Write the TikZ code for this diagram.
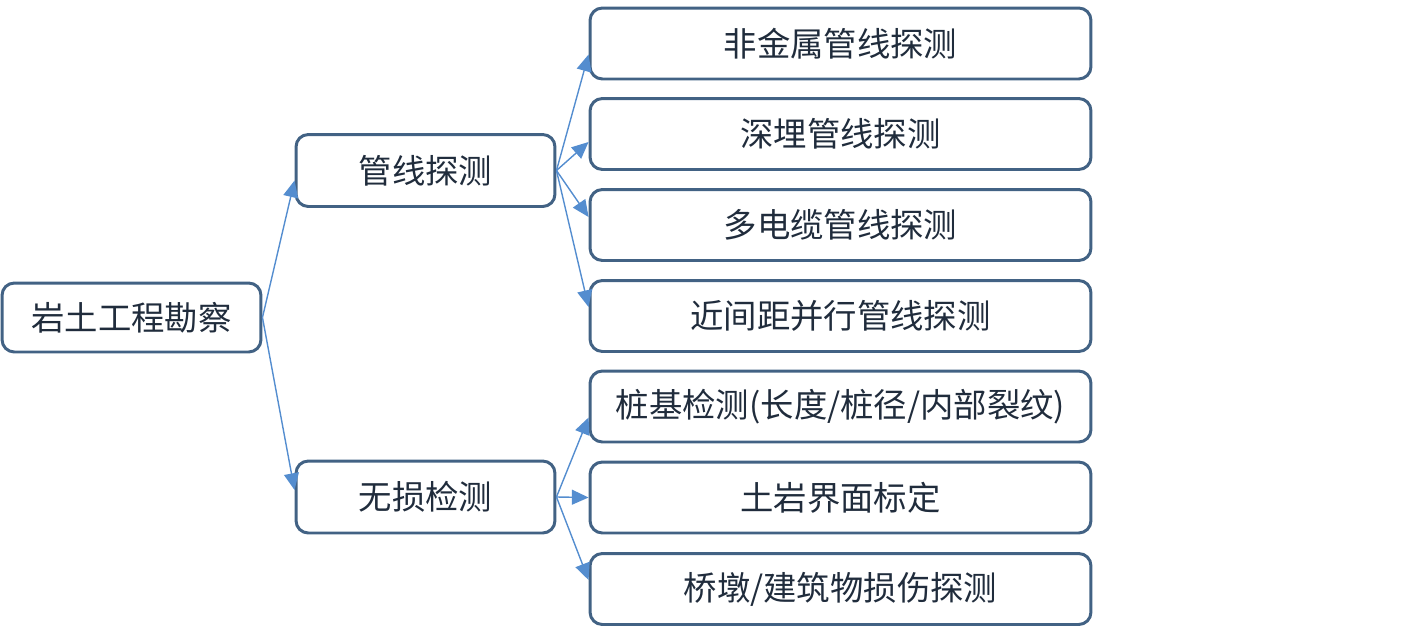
\documentclass[tikz,border=0pt]{standalone}
\usepackage{fontspec}
\setmainfont{Noto Sans CJK SC}
\usepackage{tikz}
\usetikzlibrary{arrows.meta, positioning}
\definecolor{boxline}  {RGB}{66, 98, 132}
\definecolor{arrowblue}{RGB}{84,141,207}
\definecolor{textdark} {RGB}{32, 44, 60}

\begin{document}
\begin{tikzpicture}[x=0.02cm,y=-0.02cm,
		box/.style={draw=boxline,line width=1.7pt,rounded corners=7pt,
			text=textdark,font=\fontsize{19}{22}\selectfont,inner sep=0pt},
		midbox/.style={box,minimum width=5.18cm,minimum height=1.44cm},
		leafbox/.style={box,minimum width=10.02cm,minimum height=1.42cm},
		link/.style={draw=arrowblue,line width=0.8pt,
			-{Triangle[length=9.5pt,width=8.5pt]}}
	]
	\useasboundingbox (0,0) rectangle (1423,632);
	% root
	\node[box,minimum width=5.18cm,minimum height=1.38cm] (root) at (131.5,317.5) {岩土工程勘察};
	% second level
	\node[midbox] (pipe) at (425.5,170.5) {管线探测};
	\node[midbox] (ndt)  at (425.5,497)   {无损检测};
	% leaves
	\node[leafbox] (p1) at (840.5,43.5)  {非金属管线探测};
	\node[leafbox] (p2) at (840.5,134)   {深埋管线探测};
	\node[leafbox] (p3) at (840.5,225)   {多电缆管线探测};
	\node[leafbox] (p4) at (840.5,316)   {近间距并行管线探测};
	\node[leafbox] (n1) at (840.5,406.5) {桩基检测(长度/桩径/内部裂纹)};
	\node[leafbox] (n2) at (840.5,497.5) {土岩界面标定};
	\node[leafbox] (n3) at (840.5,589)   {桥墩/建筑物损伤探测};
	% connectors
	\draw[link] (root.east) -- ([yshift=-0.2cm]pipe.west);
	\draw[link] (root.east) -- ([yshift=0.14cm]ndt.west);
	\draw[link] (pipe.east) -- ([yshift=-0.22cm]p1.west);
	\draw[link] (pipe.east) -- ([yshift=-0.16cm]p2.west);
	\draw[link] (pipe.east) -- ([yshift=0.16cm]p3.west);
	\draw[link] (pipe.east) -- ([yshift=0.18cm]p4.west);
	\draw[link] (ndt.east) -- ([yshift=-0.22cm]n1.west);
	\draw[link] (ndt.east) -- (n2.west);
	\draw[link] (ndt.east) -- ([yshift=0.18cm]n3.west);
\end{tikzpicture}
\end{document}
